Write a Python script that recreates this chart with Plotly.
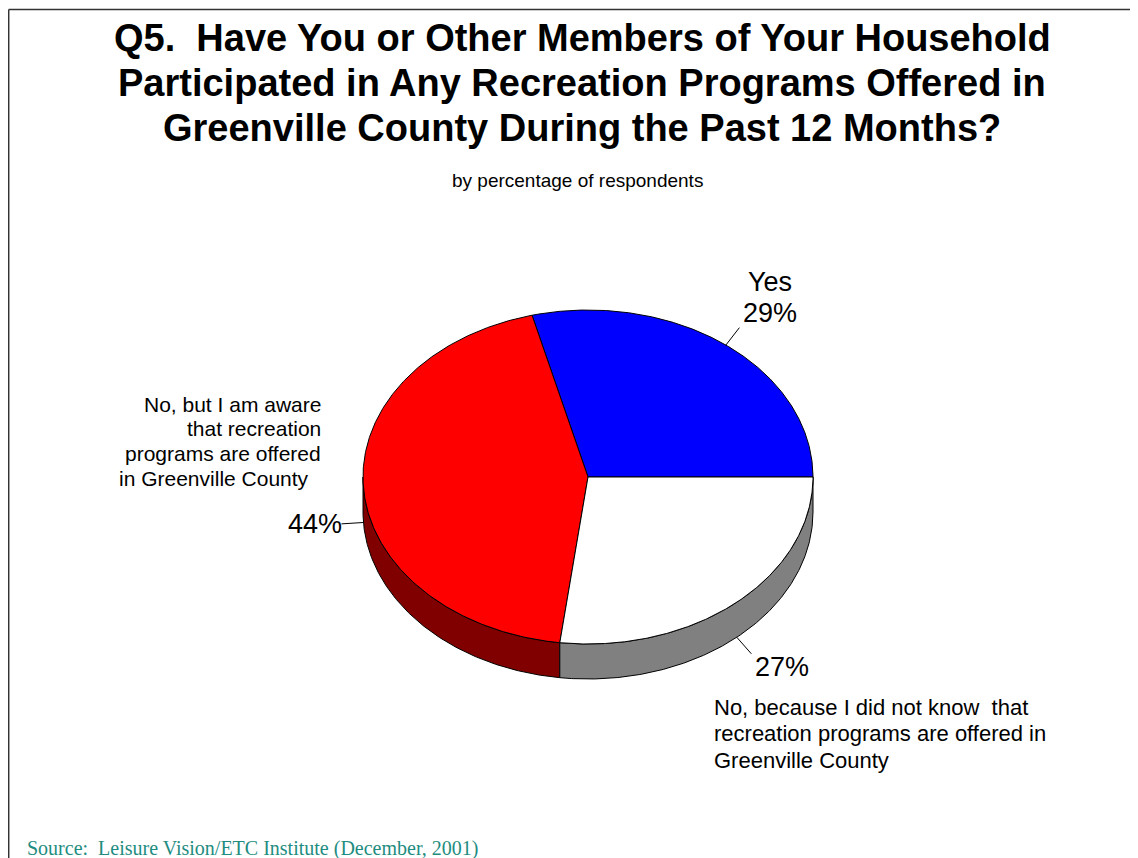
import numpy as np
import plotly.graph_objects as go

# ---------------- data ----------------
categories = ["Yes",
              "No, but I am aware that recreation programs are offered in Greenville County",
              "No, because I did not know that recreation programs are offered in Greenville County"]
values = [29, 44, 27]
top_colors = ["#0000FF", "#FF0000", "#FFFFFF"]
side_colors = ["#000080", "#800000", "#808080"]

title_lines = ["Q5.  Have You or Other Members of Your Household",
               "Participated in Any Recreation Programs Offered in",
               "Greenville County During the Past 12 Months?"]
subtitle = "by percentage of respondents"
source = "Source:  Leisure Vision/ETC Institute (December, 2001)"
left_lines = ["No, but I am aware", "that recreation", "programs are offered", "in Greenville County"]
bottom_lines = ["No, because I did not know  that", "recreation programs are offered in", "Greenville County"]

# ---------------- geometry (page-pixel layout) ----------------
PAGE_W, PAGE_H = 1138, 858
OFF = 8                      # browser body margin
CX, CY = 588, 477            # centre of top face
RX, RY = 225, 167            # ellipse radii
DEPTH = 35                   # thickness of pie

def ell(t_deg, dy=0):
    t = np.radians(t_deg)
    return CX + RX * np.cos(t), CY - RY * np.sin(t) + dy

total = sum(values)
angles = np.cumsum([0] + [v / total * 360 for v in values])

fig = go.Figure()

# side walls (visible lower half: 180..360 deg)
for i in range(len(values)):
    a0, a1 = angles[i], angles[i + 1]
    s0, s1 = max(a0, 180), min(a1, 360)
    if s1 <= s0:
        continue
    ts = np.linspace(s0, s1, 200)
    xt, yt = ell(ts)
    xb, yb = ell(ts[::-1], DEPTH)
    xs = np.concatenate([xt, xb, xt[:1]])
    ys = np.concatenate([yt, yb, yt[:1]])
    fig.add_trace(go.Scatter(x=xs, y=ys, mode="lines", fill="toself",
                             fillcolor=side_colors[i],
                             line=dict(color="black", width=1),
                             hoverinfo="skip", showlegend=False))

# top faces
for i in range(len(values)):
    a0, a1 = angles[i], angles[i + 1]
    ts = np.linspace(a0, a1, 300)
    xa, ya = ell(ts)
    xs = np.concatenate([[CX], xa, [CX]])
    ys = np.concatenate([[CY], ya, [CY]])
    fig.add_trace(go.Scatter(x=xs, y=ys, mode="lines", fill="toself",
                             fillcolor=top_colors[i],
                             line=dict(color="black", width=1),
                             hoverinfo="text", text=f"{categories[i]}: {values[i]}%",
                             showlegend=False))

# leader lines from slice mid-angles
for i in range(len(values)):
    m = (angles[i] + angles[i + 1]) / 2
    dy = DEPTH if 180 < m < 360 else 0
    x0, y0 = ell(m, dy)
    t = np.radians(m)
    x1, y1 = x0 + 22 * np.cos(t), y0 - 22 * np.sin(t)
    fig.add_trace(go.Scatter(x=[x0, x1], y=[y0, y1], mode="lines",
                             line=dict(color="black", width=1),
                             hoverinfo="skip", showlegend=False))

sans = "Liberation Sans, Arial, sans-serif"
ann = []
for k, line in enumerate(title_lines):
    ann.append(dict(x=582, y=38 + 45 * k, text=f"<b>{line}</b>", showarrow=False,
                    font=dict(family=sans, size=38, color="black"),
                    xanchor="center", yanchor="middle"))
ann.append(dict(x=577, y=180, text=subtitle, showarrow=False,
                font=dict(family=sans, size=19, color="black"),
                xanchor="center", yanchor="middle"))

# slice labels
lab = dict(family=sans, size=27, color="black")
ann.append(dict(x=770, y=282, text=categories[0], showarrow=False, font=lab,
                xanchor="center", yanchor="middle"))
ann.append(dict(x=770, y=313, text=f"{values[0]}%", showarrow=False, font=lab,
                xanchor="center", yanchor="middle"))
ann.append(dict(x=315, y=524, text=f"{values[1]}%", showarrow=False, font=lab,
                xanchor="center", yanchor="middle"))
ann.append(dict(x=782, y=667, text=f"{values[2]}%", showarrow=False, font=lab,
                xanchor="center", yanchor="middle"))

for k, line in enumerate(left_lines):
    ann.append(dict(x=323 if k < 3 else 117, y=404 + 24.7 * k, text=line, showarrow=False,
                    font=dict(family=sans, size=21, color="black"),
                    xanchor="right" if k < 3 else "left", yanchor="middle"))

for k, line in enumerate(bottom_lines):
    ann.append(dict(x=712, y=707 + 26.5 * k, text=line, showarrow=False,
                    font=dict(family=sans, size=22, color="black"),
                    xanchor="left", yanchor="middle"))

ann.append(dict(x=25, y=848, text=source, showarrow=False,
                font=dict(family="Liberation Serif, Times New Roman, serif", size=20, color="#1E8C80"),
                xanchor="left", yanchor="middle"))

# frame
shapes = [
    dict(type="line", x0=8.7, y0=9.5, x1=PAGE_W + 5, y1=9.5, line=dict(color="#333333", width=1.5)),
    dict(type="line", x0=8.7, y0=9.5, x1=8.7, y1=PAGE_H + 5, line=dict(color="#333333", width=1.5)),
]

fig.update_layout(
    width=PAGE_W - OFF, height=PAGE_H - OFF,
    margin=dict(l=0, r=0, t=0, b=0),
    paper_bgcolor="white", plot_bgcolor="white",
    xaxis=dict(range=[OFF, PAGE_W], visible=False, fixedrange=True),
    yaxis=dict(range=[PAGE_H, OFF], visible=False, fixedrange=True),
    annotations=ann, shapes=shapes,
)

fig.write_html("out.html")
